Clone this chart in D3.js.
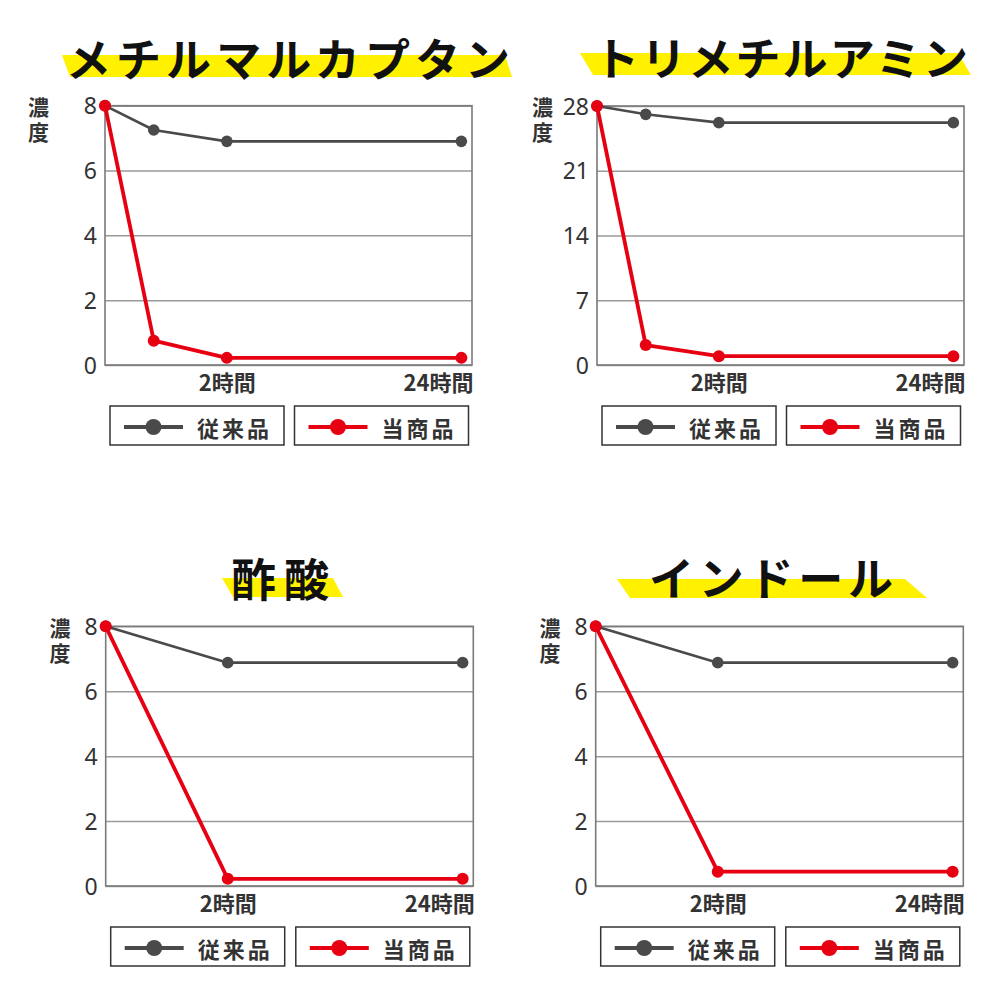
<!DOCTYPE html>
<html><head><meta charset="utf-8">
<script src="https://cdn.jsdelivr.net/npm/d3@7/dist/d3.min.js"></script>
<style>
html,body{margin:0;padding:0;background:#fff;}
svg{display:block;}
</style></head>
<body>
<svg id="c" width="1000" height="1000"></svg>
<script>
// ---------- data ----------
const titles = ["メチルマルカプタン", "トリメチルアミン", "酢酸", "インドール"];
const yMaxes = [8, 28, 8, 8];
const yTickValues = [[0, 2, 4, 6, 8], [0, 7, 14, 21, 28], [0, 2, 4, 6, 8], [0, 2, 4, 6, 8]];
const sampleHours = [0, 0.8, 2, 24];
const xTickHours = [2, 24];
const xTickLabels = ["2時間", "24時間"];
const seriesNames = ["従来品", "当商品"];
const yAxisLabel = "濃度";
const conventionalValues = [
  [8, 7.25, 6.9, 6.9],
  [28, 27.1, 26.2, 26.2],
  [8, null, 6.88, 6.88],
  [8, null, 6.88, 6.88]
];
const productValues = [
  [8, 0.75, 0.22, 0.22],
  [28, 2.15, 0.95, 0.95],
  [8, null, 0.22, 0.22],
  [8, null, 0.44, 0.44]
];

// ---------- layout ----------
const layout = [
  {px: 105, py: 105.7, w: 367, h: 259.3, labX: 38.5,
   tx: 66, ty: 57, tlen: 444, hl: [[62,55],[505,55],[512,77],[70,77]]},
  {px: 597, py: 106, w: 367, h: 259, labX: 542.5,
   tx: 594, ty: 56, tlen: 374, hl: [[580,53],[958,53],[971,75],[593,75]]},
  {px: 105.7, py: 626.3, w: 367.6, h: 259.7, labX: 60,
   tx: 231, ty: 577, tlen: 98, hl: [[222,578],[333,578],[343,597],[233,597]]},
  {px: 595.7, py: 626.3, w: 367.6, h: 259.7, labX: 550,
   tx: 649, ty: 576, tlen: 244, hl: [[617,579],[905,579],[927,598],[630,598]]}
];

const GRAY = "#4a4a4a", RED = "#e60012", TEXT = "#333";
const svg = d3.select("#c");
svg.append("rect").attr("width", 1000).attr("height", 1000).attr("fill", "#fff");

titles.forEach((title, i) => {
  const L = layout[i];
  // title highlight + text
  svg.append("polygon").attr("points", L.hl.map(p => p.join(",")).join(" ")).attr("fill", "#fff100");
  svg.append("text").attr("x", L.tx).attr("y", L.ty)
    .attr("dominant-baseline", "central")
    .attr("font-family", "'Noto Sans CJK JP', sans-serif").attr("font-weight", 700)
    .attr("font-size", 45).attr("fill", "#111")
    .attr("textLength", L.tlen).attr("lengthAdjust", "spacing")
    .text(title);

  const g = svg.append("g").attr("transform", `translate(${L.px},${L.py})`);
  const x = d3.scaleLinear().domain([0, 2, 24, 25]).range([0, L.w * 0.332, L.w * 0.971, L.w]);
  const y = d3.scaleLinear().domain([0, yMaxes[i]]).range([L.h, 0]);

  // grid
  const grid = g.append("g").call(d3.axisLeft(y).tickValues(yTickValues[i]).tickSize(-L.w).tickFormat(""));
  grid.select(".domain").remove();
  grid.selectAll(".tick line").attr("stroke", "#9a9a9a").attr("stroke-width", 1.5);

  // frame
  g.append("rect").attr("x", 0).attr("y", 0).attr("width", L.w).attr("height", L.h)
    .attr("fill", "none").attr("stroke", "#7a7a7a").attr("stroke-width", 1.6);

  // y axis labels
  const ya = g.append("g").call(d3.axisLeft(y).tickValues(yTickValues[i]).tickSize(0).tickPadding(8));
  ya.select(".domain").remove();
  ya.selectAll("text").attr("font-family", "'Noto Sans', 'Noto Sans CJK JP', sans-serif")
    .attr("font-size", 23).attr("fill", TEXT).attr("dy", "0.35em");

  // y axis title (vertical, single text)
  svg.append("text").attr("x", L.labX).attr("y", L.py - 9)
    .attr("writing-mode", "vertical-rl").style("writing-mode", "vertical-rl")
    .style("text-orientation", "upright")
    .attr("letter-spacing", 4)
    .attr("font-family", "'Noto Sans CJK JP', sans-serif").attr("font-weight", 700)
    .attr("font-size", 21).attr("fill", TEXT).text(yAxisLabel);

  // x axis labels
  const xa = g.append("g").attr("transform", `translate(0,${L.h})`)
    .call(d3.axisBottom(x).tickValues(xTickHours).tickSize(0).tickPadding(8)
      .tickFormat((d, k) => xTickLabels[k]));
  xa.select(".domain").remove();
  xa.selectAll("text").attr("font-family", "'Noto Sans CJK JP', sans-serif").attr("font-weight", 700)
    .attr("font-size", 22).attr("fill", TEXT).attr("y", 18).attr("dy", "0.35em");
  xa.selectAll(".tick").filter(d => d === 24).select("text")
    .attr("text-anchor", "end").attr("x", x(25) - x(24) + 1);

  // series
  const series = [
    {vals: conventionalValues[i], color: GRAY, width: 2.6, r: 5.8},
    {vals: productValues[i], color: RED, width: 3.8, r: 6}
  ];
  series.forEach(s => {
    const pts = sampleHours.map((h, k) => ({h, v: s.vals[k]})).filter(p => p.v !== null);
    g.append("path").datum(pts)
      .attr("d", d3.line().x(p => x(p.h)).y(p => y(p.v)))
      .attr("fill", "none").attr("stroke", s.color).attr("stroke-width", s.width)
      .attr("stroke-linejoin", "round");
    g.selectAll(null).data(pts).enter().append("circle")
      .attr("cx", p => x(p.h)).attr("cy", p => y(p.v)).attr("r", s.r).attr("fill", s.color);
  });

  // legend
  const lg = g.append("g").attr("transform", `translate(0,${L.h + 41})`);
  const legendColors = [GRAY, RED];
  seriesNames.forEach((name, k) => {
    const bx = k === 0 ? 5 : L.w - 177.5;
    const item = lg.append("g").attr("transform", `translate(${bx},0)`);
    item.append("rect").attr("width", 174).attr("height", 39)
      .attr("fill", "#fff").attr("stroke", "#333").attr("stroke-width", 1.5);
    item.append("line").attr("x1", 14).attr("x2", 73).attr("y1", 21).attr("y2", 21)
      .attr("stroke", legendColors[k]).attr("stroke-width", 4);
    item.append("circle").attr("cx", 43.5).attr("cy", 21).attr("r", 8).attr("fill", legendColors[k]);
    item.append("text").attr("x", 87).attr("y", 21).attr("dominant-baseline", "central")
      .attr("font-family", "'Noto Sans CJK JP', sans-serif").attr("font-weight", 700)
      .attr("font-size", 22).attr("letter-spacing", 3).attr("fill", TEXT).text(name);
  });
});
</script>
</body></html>
